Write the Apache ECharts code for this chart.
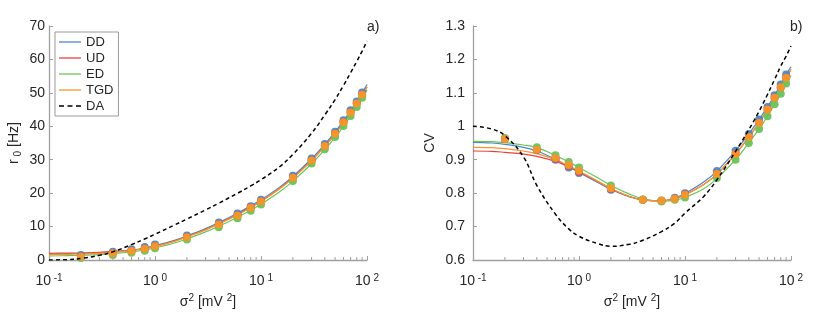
<!DOCTYPE html>
<html>
<head>
<meta charset="utf-8">
<script src="https://cdn.jsdelivr.net/npm/echarts@6/dist/echarts.min.js"></script>
<style>
html,body{margin:0;padding:0;background:#fff;}
#chart{width:830px;height:314px;}
</style>
</head>
<body>
<div id="chart"></div>
<script>
// ---- data ----
const seriesNames = ['DD', 'UD', 'ED', 'TGD', 'DA'];
const lineX = [0.1, 0.15, 0.2, 0.3, 0.4, 0.6, 0.8, 1, 1.5, 2, 3, 4, 6, 8, 10, 15, 20, 30, 40, 50, 60, 70, 80, 90, 100];
const markX = [0.2, 0.4, 0.6, 0.8, 1, 2, 4, 6, 8, 10, 20, 30, 40, 50, 60, 70, 80, 90];

// panel a) r0 [Hz] - theory curves
const r0_DD  = [1.8, 1.9, 2.0, 2.2, 2.5, 3.0, 3.6, 4.3, 5.8, 7.2, 9.4, 11.2, 14.0, 16.2, 18.0, 21.8, 25.0, 30.3, 34.6, 38.3, 41.7, 44.6, 47.4, 50.0, 52.5];
const r0_UD  = [2.0, 2.05, 2.1, 2.3, 2.5, 2.9, 3.5, 4.1, 5.6, 7.0, 9.1, 10.9, 13.6, 15.8, 17.6, 21.4, 24.6, 29.8, 34.1, 37.8, 41.1, 44.0, 46.8, 49.4, 51.8];
const r0_ED  = [1.2, 1.3, 1.4, 1.6, 1.9, 2.4, 3.0, 3.6, 5.0, 6.3, 8.4, 10.1, 12.8, 14.9, 16.7, 20.4, 23.6, 28.8, 33.0, 36.7, 40.0, 43.0, 45.8, 48.4, 50.9];
const r0_TGD = [1.6, 1.7, 1.8, 2.0, 2.3, 2.8, 3.4, 4.0, 5.5, 6.9, 9.0, 10.8, 13.5, 15.7, 17.5, 21.3, 24.5, 29.7, 34.0, 37.6, 41.0, 43.9, 46.7, 49.3, 51.8];
const r0_DA  = [0.0, 0.12, 0.45, 1.4, 2.45, 4.6, 6.3, 7.7, 10.35, 12.25, 15.0, 17.0, 19.95, 22.15, 24.0, 27.9, 31.6, 37.9, 43.4, 48.0, 52.2, 56.0, 59.4, 62.5, 65.5];
// panel a) simulation markers
const r0m_DD  = [1.5, 2.5, 3.2, 3.9, 4.6, 7.3, 11.2, 13.9, 16.1, 18.0, 25.2, 30.4, 34.7, 38.4, 41.8, 44.8, 47.4, 50.1];
const r0m_UD  = [1.0, 2.0, 2.7, 3.4, 4.1, 6.8, 10.6, 13.3, 15.6, 17.5, 24.6, 29.8, 34.1, 37.8, 41.2, 44.1, 46.8, 49.4];
const r0m_ED  = [0.6, 1.5, 2.2, 2.8, 3.5, 6.1, 9.8, 12.5, 14.7, 16.6, 23.6, 28.9, 33.1, 36.8, 40.1, 43.1, 45.8, 48.5];
const r0m_TGD = [1.0, 2.0, 2.7, 3.4, 4.1, 6.8, 10.6, 13.3, 15.6, 17.5, 24.6, 29.8, 34.1, 37.8, 41.2, 44.1, 46.8, 49.4];

// panel b) CV - theory curves
const cv_DD  = [0.952, 0.950, 0.946, 0.937, 0.926, 0.901, 0.879, 0.862, 0.832, 0.811, 0.789, 0.780, 0.777, 0.785, 0.799, 0.833, 0.866, 0.927, 0.977, 1.020, 1.058, 1.093, 1.125, 1.155, 1.178];
const cv_UD  = [0.926, 0.925, 0.922, 0.917, 0.910, 0.895, 0.879, 0.864, 0.835, 0.813, 0.790, 0.780, 0.777, 0.783, 0.795, 0.826, 0.857, 0.917, 0.968, 1.010, 1.050, 1.085, 1.117, 1.145, 1.170];
const cv_ED  = [0.955, 0.954, 0.951, 0.944, 0.936, 0.913, 0.893, 0.877, 0.846, 0.823, 0.797, 0.783, 0.776, 0.779, 0.787, 0.813, 0.844, 0.900, 0.950, 0.992, 1.030, 1.066, 1.097, 1.127, 1.152];
const cv_TGD = [0.937, 0.936, 0.933, 0.926, 0.918, 0.900, 0.882, 0.866, 0.836, 0.814, 0.790, 0.780, 0.777, 0.783, 0.795, 0.826, 0.857, 0.917, 0.968, 1.010, 1.050, 1.085, 1.117, 1.145, 1.170];
const cv_DA  = [1.000, 0.992, 0.972, 0.908, 0.823, 0.737, 0.693, 0.671, 0.649, 0.641, 0.647, 0.659, 0.685, 0.710, 0.740, 0.790, 0.840, 0.925, 0.990, 1.045, 1.095, 1.140, 1.180, 1.210, 1.240];
// panel b) simulation markers
const cvm_DD  = [0.962, 0.928, 0.900, 0.877, 0.860, 0.810, 0.780, 0.777, 0.786, 0.800, 0.866, 0.927, 0.977, 1.020, 1.058, 1.093, 1.125, 1.155];
const cvm_UD  = [0.962, 0.930, 0.903, 0.882, 0.864, 0.813, 0.780, 0.777, 0.783, 0.796, 0.858, 0.918, 0.968, 1.010, 1.050, 1.085, 1.116, 1.145];
const cvm_ED  = [0.965, 0.937, 0.913, 0.893, 0.877, 0.823, 0.781, 0.775, 0.780, 0.787, 0.845, 0.900, 0.950, 0.992, 1.030, 1.066, 1.097, 1.128];
const cvm_TGD = [0.962, 0.930, 0.905, 0.884, 0.867, 0.815, 0.780, 0.778, 0.783, 0.795, 0.857, 0.917, 0.968, 1.010, 1.050, 1.085, 1.117, 1.145];

const yTicksA = [0, 10, 20, 30, 40, 50, 60, 70];
const yTicksB = [0.6, 0.7, 0.8, 0.9, 1, 1.1, 1.2, 1.3];

// ---- styling ----
const colors = {DD: '#4f86c4', UD: '#e8433d', ED: '#6cc25a', TGD: '#f7962a', DA: '#000000'};
const FONT = '"Liberation Sans", Arial, Helvetica, sans-serif';
const AXIS_COLOR = '#a0a0a0';
const TEXT_COLOR = '#262626';
const ICON_SOLID = 'path://M0,0H22V1.3H0Z';
const ICON_DASH = 'path://M0,0H5V1.3H0Z M8.5,0H13.5V1.3H8.5Z M17,0H22V1.3H17Z';

function pairs(xs, ys) { return xs.map((x, i) => [x, ys[i]]); }

const chart = echarts.init(document.getElementById('chart'), null, {renderer: 'canvas'});

const grids = [
  {left: 49, top: 26, width: 318, height: 236},
  {left: 473, top: 26, width: 318, height: 236}
];

function xAxisDef(gi) {
  return {
    type: 'log', logBase: 10, gridIndex: gi, min: 0.1, max: 100,
    name: '{t|σ}{s|2}{t| [mV }{s|2}{t|]}',
    nameLocation: 'middle', nameGap: 33,
    nameTextStyle: {
      rich: {
        t: {fontSize: 14, fontFamily: FONT, color: TEXT_COLOR, lineHeight: 18},
        s: {fontSize: 10, fontFamily: FONT, color: TEXT_COLOR, lineHeight: 10, verticalAlign: 'top'}
      }
    },
    axisLine: {show: true, lineStyle: {color: AXIS_COLOR, width: 1.3}},
    axisTick: {show: true, inside: true, length: 4, lineStyle: {color: AXIS_COLOR, width: 1}},
    splitLine: {show: false},
    axisLabel: {
      margin: 13,
      formatter: function (v) {
        const e = Math.round(Math.log10(v));
        return '{b|10}{e| ' + e + '}';
      },
      rich: {
        b: {fontSize: 14, fontFamily: FONT, color: TEXT_COLOR, lineHeight: 16},
        e: {fontSize: 10, fontFamily: FONT, color: TEXT_COLOR, lineHeight: 10, verticalAlign: 'top'}
      }
    }
  };
}

function yAxisDef(gi, min, max, interval, name, gap, labelMargin) {
  return {
    type: 'value', gridIndex: gi, min: min, max: max, interval: interval,
    name: name, nameLocation: 'middle', nameGap: gap, nameRotate: 90,
    nameTextStyle: {
      fontSize: 14, fontFamily: FONT, color: TEXT_COLOR,
      rich: {
        t: {fontSize: 14, fontFamily: FONT, color: TEXT_COLOR, lineHeight: 18},
        sub: {fontSize: 10, fontFamily: FONT, color: TEXT_COLOR, lineHeight: 10, verticalAlign: 'bottom'}
      }
    },
    axisLine: {show: true, lineStyle: {color: AXIS_COLOR, width: 1.3}},
    axisTick: {show: true, inside: true, length: 4, lineStyle: {color: AXIS_COLOR, width: 1}},
    splitLine: {show: false},
    axisLabel: {
      margin: labelMargin, fontSize: 14, fontFamily: FONT, color: TEXT_COLOR,
      formatter: v => String(+v.toFixed(1))
    }
  };
}

function lineSeries(name, gi, ys, dashed) {
  return {
    name: name, type: 'line', xAxisIndex: gi, yAxisIndex: gi,
    data: pairs(lineX, ys), smooth: 0.4, symbol: 'none', showSymbol: false,
    lineStyle: {color: colors[name], width: dashed ? 1.5 : 1.2, type: dashed ? [4, 3] : 'solid'},
    itemStyle: {color: colors[name]},
    z: dashed ? 4 : 2, silent: true
  };
}

function markSeries(name, gi, ys) {
  return {
    name: name + ' sim', type: 'scatter', xAxisIndex: gi, yAxisIndex: gi,
    data: pairs(markX, ys), symbol: 'circle', symbolSize: 8,
    itemStyle: {color: colors[name], opacity: 0.95},
    z: 3, silent: true
  };
}

// minor ticks on the log axes (2..9 per decade), placed through the axis scale
const minorX = [];
[-1, 0, 1].forEach(k => { for (let m = 2; m <= 9; m++) minorX.push(+(m * Math.pow(10, k)).toPrecision(3)); });

function minorTickSeries(gi, ymin) {
  return {
    type: 'custom', xAxisIndex: gi, yAxisIndex: gi, silent: true, clip: false, z: 5,
    data: minorX.map(x => [x, ymin]),
    encode: {x: 0, y: 1},
    renderItem: function (params, api) {
      const p = api.coord([api.value(0), api.value(1)]);
      return {type: 'line', shape: {x1: p[0], y1: p[1], x2: p[0], y2: p[1] - 3},
              style: {stroke: AXIS_COLOR, lineWidth: 1}};
    }
  };
}

const series = [
  lineSeries('DD', 0, r0_DD), lineSeries('UD', 0, r0_UD), lineSeries('ED', 0, r0_ED), lineSeries('TGD', 0, r0_TGD),
  markSeries('DD', 0, r0m_DD), markSeries('UD', 0, r0m_UD), markSeries('ED', 0, r0m_ED), markSeries('TGD', 0, r0m_TGD),
  lineSeries('DA', 0, r0_DA, true),
  lineSeries('DD', 1, cv_DD), lineSeries('UD', 1, cv_UD), lineSeries('ED', 1, cv_ED), lineSeries('TGD', 1, cv_TGD),
  markSeries('DD', 1, cvm_DD), markSeries('UD', 1, cvm_UD), markSeries('ED', 1, cvm_ED), markSeries('TGD', 1, cvm_TGD),
  lineSeries('DA', 1, cv_DA, true),
  minorTickSeries(0, yTicksA[0]), minorTickSeries(1, yTicksB[0])
];

chart.setOption({
  animation: false,
  backgroundColor: '#ffffff',
  grid: grids,
  xAxis: [xAxisDef(0), xAxisDef(1)],
  yAxis: [
    yAxisDef(0, yTicksA[0], yTicksA[yTicksA.length - 1], 10, '{t|r}{sub| 0}{t| [Hz]}', 26, 4),
    yAxisDef(1, yTicksB[0], yTicksB[yTicksB.length - 1], 0.1, 'CV', 36, 8)
  ],
  legend: {
    data: seriesNames.map(n => ({name: n, icon: n === 'DA' ? ICON_DASH : ICON_SOLID})),
    orient: 'vertical', left: 55, top: 32,
    itemWidth: 22, itemHeight: 1.3, itemGap: 2,
    padding: [3, 5, 3, 4],
    backgroundColor: '#ffffff', borderColor: '#9a9a9a', borderWidth: 1,
    textStyle: {fontSize: 13, fontFamily: FONT, color: TEXT_COLOR, lineHeight: 14},
    selectedMode: false
  },
  graphic: [
    {type: 'text', left: 367, top: 20, style: {text: 'a)', fontSize: 14, fontFamily: FONT, fill: TEXT_COLOR}},
    {type: 'text', left: 790, top: 20, style: {text: 'b)', fontSize: 14, fontFamily: FONT, fill: TEXT_COLOR}}
  ],
  series: series
});
</script>
</body>
</html>
